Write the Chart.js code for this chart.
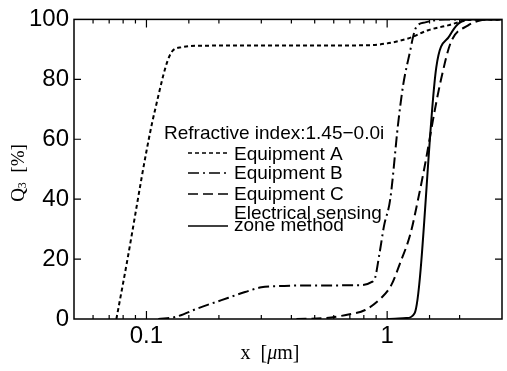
<!DOCTYPE html>
<html>
<head>
<meta charset="utf-8">
<script src="https://cdn.jsdelivr.net/npm/chart.js@4.4.0/dist/chart.umd.min.js"></script>
<style>
html, body { margin: 0; padding: 0; background: #fff; }
#wrap { width: 507px; height: 371px; }
</style>
</head>
<body>
<div id="wrap"><canvas id="q3Chart"></canvas></div>
<script>
// cumulative distribution Q3 [%] against particle size x [um]
var aX = [0.075, 0.083, 0.1, 0.108, 0.127, 0.14, 0.164, 0.3, 0.6, 0.85, 1.0, 1.12, 1.26, 1.48, 1.79, 2.1, 2.35, 3];
var aY = [0, 19, 56, 69, 89, 90.7, 91.2, 91.3, 91.3, 91.4, 92, 92.8, 94, 96.4, 98, 99.6, 100, 100];

var bX = [0.112, 0.132, 0.164, 0.205, 0.257, 0.3, 0.353, 0.5, 0.76, 0.86, 0.89, 0.93, 0.97, 1.03, 1.11, 1.165, 1.25, 1.28, 1.32, 1.44, 1.74, 3];
var bY = [0, 0.7, 3.6, 6.3, 9, 10.6, 11, 11.2, 11.3, 12.3, 13.6, 22, 31, 40, 65, 78, 90, 94, 97.4, 99, 100, 100];

var cX = [0.42, 0.55, 0.69, 0.81, 0.944, 1.04, 1.13, 1.25, 1.34, 1.44, 1.58, 1.675, 1.84, 2.17, 2.45, 2.7, 3];
var cY = [0, 0.3, 1.5, 3, 7, 11.3, 18.5, 28.5, 39.4, 52, 70, 80, 92.4, 98, 99.7, 100, 100];

var eX = [1.0, 1.2, 1.3, 1.6, 1.82, 1.97, 2.17, 3];
var eY = [0, 0.3, 1.9, 84, 94.6, 98.5, 100, 100];

var seriesNames = ['Equipment A', 'Equipment B', 'Equipment C', ['Electrical sensing', 'zone method']];
var legendTitle = 'Refractive index:1.45\u22120.0i';
var xLabels = [0.1, 1];

var sansFont = '"Liberation Sans", Arial, sans-serif';
var serifFont = '"Liberation Serif", "Times New Roman", serif';

function pts(xs, ys) {
    return xs.map(function (x, i) { return { x: x, y: ys[i] }; });
}

function line(label, xs, ys, dash) {
    return {
        label: label,
        data: pts(xs, ys),
        borderColor: '#000',
        borderWidth: 2,
        borderDash: dash,
        pointRadius: 0,
        fill: false,
        cubicInterpolationMode: 'monotone'
    };
}

// box with inward ticks on all four sides, axis titles and the in-plot legend
var framePlugin = {
    id: 'frame',
    afterDraw: function (chart) {
        var ctx = chart.ctx;
        var a = chart.chartArea;
        var xs = chart.scales.x, ys = chart.scales.y;
        ctx.save();
        ctx.strokeStyle = '#000';
        ctx.fillStyle = '#000';
        ctx.lineWidth = 1.5;
        ctx.strokeRect(a.left, a.top, a.right - a.left, a.bottom - a.top);

        ctx.lineWidth = 1.2;
        ctx.beginPath();
        xs.ticks.forEach(function (t) {
            var px = xs.getPixelForValue(t.value);
            if (px <= a.left + 1 || px >= a.right - 1) return;
            var major = Math.abs(Math.log10(t.value) - Math.round(Math.log10(t.value))) < 1e-6;
            var len = major ? 8 : 4;
            ctx.moveTo(px, a.bottom); ctx.lineTo(px, a.bottom - len);
            ctx.moveTo(px, a.top); ctx.lineTo(px, a.top + len);
        });
        ys.ticks.forEach(function (t) {
            var py = ys.getPixelForValue(t.value);
            if (py <= a.top + 1 || py >= a.bottom - 1) return;
            ctx.moveTo(a.left, py); ctx.lineTo(a.left + 7, py);
            ctx.moveTo(a.right, py); ctx.lineTo(a.right - 7, py);
        });
        ctx.stroke();

        // x axis title: x [um] with an italic mu
        ctx.textBaseline = 'middle';
        var parts = [['x  [', '20px ' + serifFont], ['\u03bc', 'italic 20px ' + serifFont], ['m]', '20px ' + serifFont]];
        var total = 0;
        parts.forEach(function (p) { ctx.font = p[1]; total += ctx.measureText(p[0]).width; });
        var tx = 270 - total / 2;
        parts.forEach(function (p) {
            ctx.font = p[1];
            ctx.fillText(p[0], tx, 354);
            tx += ctx.measureText(p[0]).width;
        });

        // y axis title: Q3 [%], rotated
        ctx.save();
        ctx.translate(19, 173);
        ctx.rotate(-Math.PI / 2);
        var q = 'Q', rest = '  [%]';
        ctx.font = '19px ' + serifFont;
        var wq = ctx.measureText(q).width;
        ctx.font = '12px ' + serifFont;
        var w3 = ctx.measureText('3').width;
        ctx.font = '19px ' + serifFont;
        var wr = ctx.measureText(rest).width;
        var sx = -(wq + w3 + wr) / 2;
        ctx.fillText(q, sx, 0);
        ctx.font = '12px ' + serifFont;
        ctx.fillText('3', sx + wq, 4);
        ctx.font = '19px ' + serifFont;
        ctx.fillText(rest, sx + wq + w3, 0);
        ctx.restore();

        // legend
        ctx.font = '19px ' + sansFont;
        ctx.fillText(legendTitle, 164, 133.5);
        var textY = [155, 174, 194.5, 213.5];
        var sampleY = [153, 173, 194, 226];
        chart.data.datasets.forEach(function (ds, i) {
            var lab = ds.label;
            ctx.beginPath();
            ctx.lineWidth = 1.5;
            ctx.setLineDash(ds.borderDash || []);
            ctx.moveTo(188, sampleY[i]);
            ctx.lineTo(228, sampleY[i]);
            ctx.stroke();
            ctx.setLineDash([]);
            if (Array.isArray(lab)) {
                ctx.fillText(lab[0], 234, textY[i]);
                ctx.fillText(lab[1], 234, textY[i] + 12.5);
            } else {
                ctx.fillText(lab, 234, textY[i]);
            }
        });
        ctx.restore();
    }
};

var chartElem = document.getElementById('q3Chart').getContext('2d');

var q3Chart = new Chart(chartElem, {
    type: 'line',
    data: {
        datasets: [
            line(seriesNames[0], aX, aY, [4, 3]),
            line(seriesNames[1], bX, bY, [11, 4, 2, 4]),
            line(seriesNames[2], cX, cY, [10, 5]),
            line(seriesNames[3], eX, eY, [])
        ]
    },
    options: {
        responsive: true,
        maintainAspectRatio: false,
        animation: false,
        layout: { padding: { top: 17, right: 5, left: 0, bottom: 0 } },
        plugins: {
            legend: { display: false },
            tooltip: { enabled: false }
        },
        scales: {
            x: {
                type: 'logarithmic',
                min: 0.05,
                max: 3,
                grid: { display: false, drawTicks: false },
                border: { display: false },
                afterFit: function (scale) { scale.height = 52; },
                ticks: {
                    autoSkip: false,
                    maxRotation: 0,
                    padding: 3,
                    color: '#000',
                    font: { family: sansFont, size: 24 },
                    callback: function (v) {
                        return xLabels.indexOf(v) >= 0 ? String(v) : '';
                    }
                }
            },
            y: {
                min: 0,
                max: 100,
                grid: { display: false, drawTicks: false },
                border: { display: false },
                afterFit: function (scale) { scale.width = 74; },
                ticks: {
                    stepSize: 20,
                    padding: 5,
                    color: '#000',
                    font: { family: sansFont, size: 24 }
                }
            }
        }
    },
    plugins: [framePlugin]
});
</script>
</body>
</html>
